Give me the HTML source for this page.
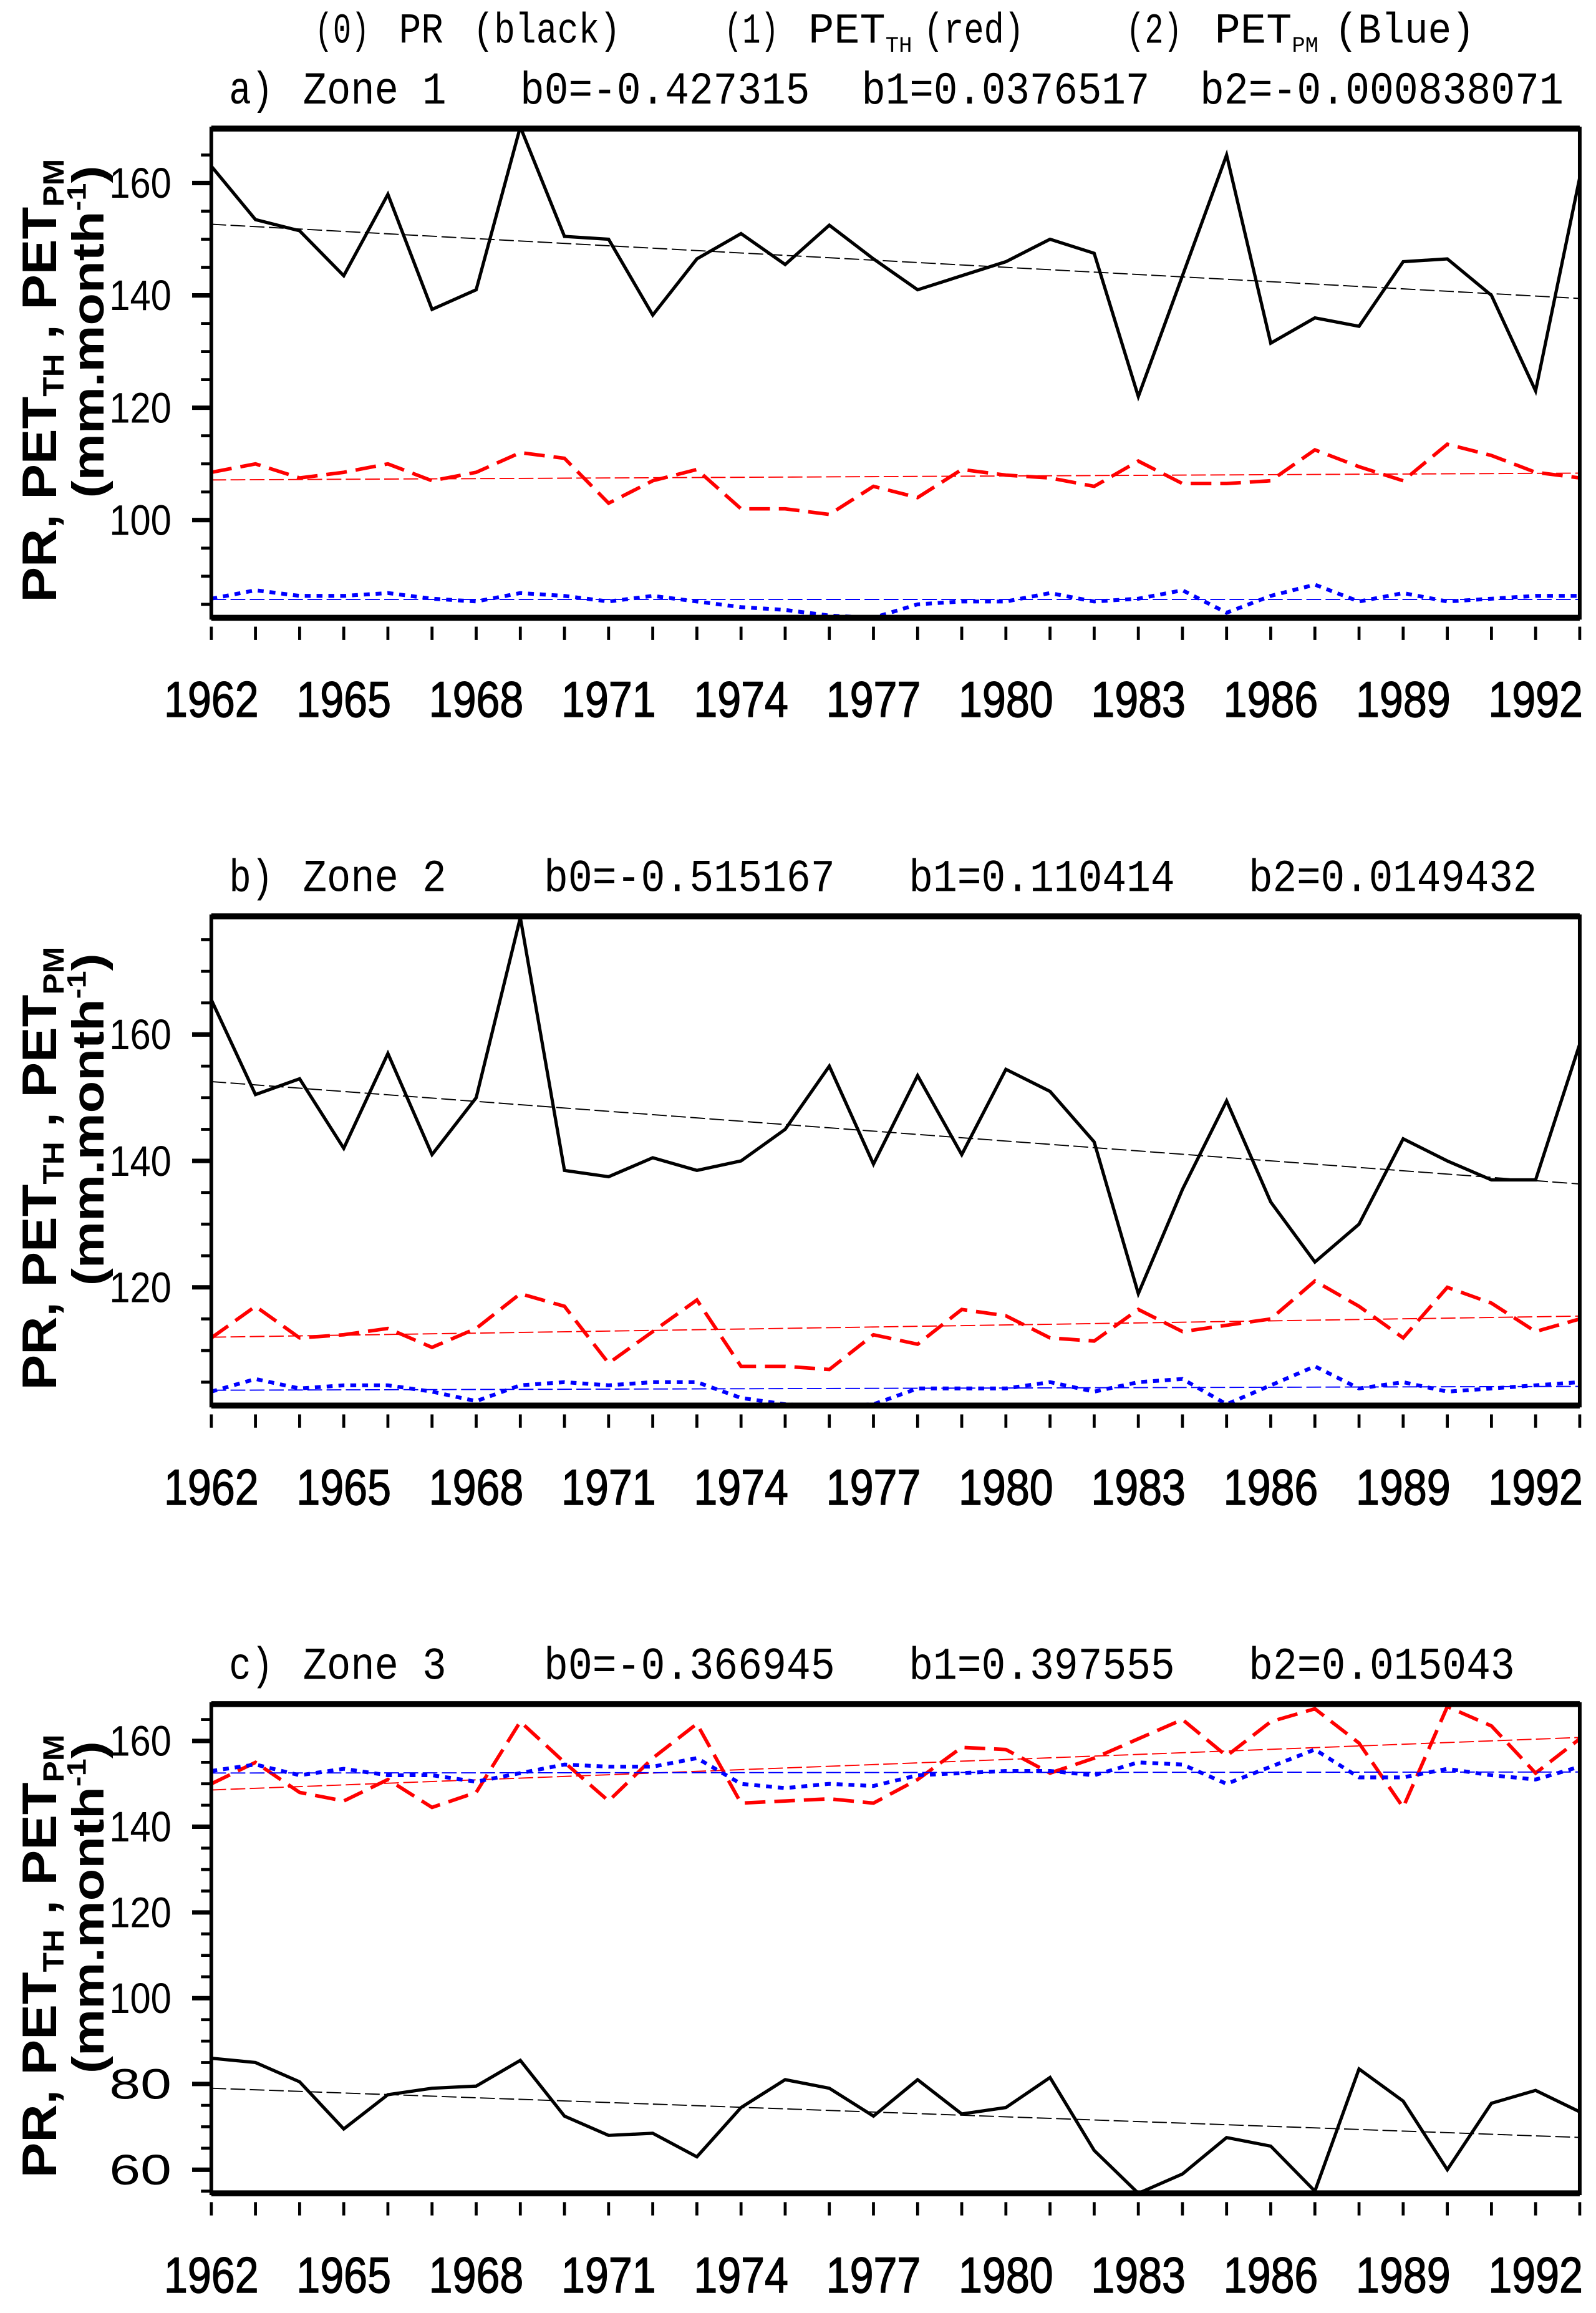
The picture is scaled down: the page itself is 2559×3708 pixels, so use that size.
<!DOCTYPE html>
<html><head><meta charset="utf-8"><style>
html,body{margin:0;padding:0;background:#fff;}
svg{display:block;}
text{font-family:"Liberation Sans",sans-serif;}
text.mono,.mono text{font-family:"Liberation Mono",monospace;}
</style></head><body>
<svg id="fig" xmlns="http://www.w3.org/2000/svg" width="2559" height="3708" viewBox="0 0 1080 1565" preserveAspectRatio="none">
<g class="mono" font-size="29">
<text class="mono" x="213" y="29" textLength="37" lengthAdjust="spacingAndGlyphs">(0)</text>
<text class="mono" x="270" y="29" textLength="30" lengthAdjust="spacingAndGlyphs">PR</text>
<text class="mono" x="320" y="29" textLength="100" lengthAdjust="spacingAndGlyphs">(black)</text>
<text class="mono" x="490" y="29" textLength="37" lengthAdjust="spacingAndGlyphs">(1)</text>
<text class="mono" x="547" y="29">PET<tspan font-size="15" dy="6">TH</tspan></text>
<text class="mono" x="625" y="29" textLength="68" lengthAdjust="spacingAndGlyphs">(red)</text>
<text class="mono" x="762" y="29" textLength="38" lengthAdjust="spacingAndGlyphs">(2)</text>
<text class="mono" x="822" y="29">PET<tspan font-size="15" dy="6">PM</tspan></text>
<text class="mono" x="903" y="29" textLength="95" lengthAdjust="spacingAndGlyphs">(Blue)</text>
</g>
</svg>
<script>
const years = [];
for (let y = 1962; y <= 1993; y++) years.push(y);
const yearTicks = [1962,1965,1968,1971,1974,1977,1980,1983,1986,1989,1992];

const prA = [163,153.5,151.5,143.5,158,137.5,141,170,150.5,150,136.5,146.5,151,145.5,152.5,146.5,141,143.5,146,150,147.5,122,143.5,165,131.5,136,134.5,146,146.5,140,123,161];
const thA = [108.5,110,107.5,108.5,110,107,108.5,112,111,103,107,109,102,102,101,106,104,109,108,107.5,106,110.5,106.5,106.5,107,112.5,109.5,107,113.5,111.5,108.5,107.5];
const pmA = [86,87.5,86.5,86.5,87,86,85.5,87,86.5,85.5,86.5,85.5,84.5,84,83,82.6,85,85.5,85.5,87,85.5,86,87.5,83.5,86.5,88.5,85.5,87,85.5,86,86.5,86.5];

const prB = [165.5,150.5,153,142,157,141,150,178.5,138.5,137.5,140.5,138.5,140,145,155,139.5,153.5,141,154.5,151,143,119,135.5,149.5,133.5,124,130,143.5,140,137,137,158.5];
const thB = [112,117,112,112.5,113.5,110.5,113.5,119,117,108,113,118,107.5,107.5,107,112.5,111,116.5,115.5,112,111.5,116.5,113,114,115,121,117,112,120,117.5,113,115];
const pmB = [103.5,105.5,104,104.5,104.5,103.5,102,104.5,105,104.5,105,105,102.5,101.5,101.3,101.5,104,104,104,105,103.5,105,105.5,101.5,104.5,107.5,104,105,103.5,104,104.5,105];

const prC = [86,85,80.5,69.5,77.5,79,79.5,85.5,72.5,68,68.5,63,74.5,81,79,72.5,81,73,74.5,81.5,64.5,54.5,59,67.5,65.5,55,83.5,76,60,75.5,78.5,73.5];
const thC = [150,155,148,146,151,144.5,148,164.5,155,146,156,164,145.5,146,146.5,145.5,151,158.5,158,152.5,156,160.5,165,156.5,164.5,167.5,159.5,144.5,168,163.5,152.5,160.5];
const pmC = [153,154.5,152,153.5,152,152,150.5,152.5,154.5,154,154,156,150,149,150,149.5,152,152.5,153,153,152,155,154.5,150,154,158,151.5,151.5,153.5,152,151,154];

const titleA = ["a)","Zone 1","b0=-0.427315","b1=0.0376517","b2=-0.000838071"];
const titleB = ["b)","Zone 2","b0=-0.515167","b1=0.110414","b2=0.0149432"];
const titleC = ["c)","Zone 3","b0=-0.366945","b1=0.397555","b2=0.015043"];
const yTicksA = [100,120,140,160];
const yTicksB = [120,140,160];
const yTicksC = [60,80,100,120,140,160];

const NS = "http://www.w3.org/2000/svg";
const svg = document.getElementById('fig');
function mk(tag, attrs, parent){ const e=document.createElementNS(NS,tag); for(const k in attrs) e.setAttribute(k,attrs[k]); (parent||svg).appendChild(e); return e; }

const X0=143, X1=1069;
const panels = [
 {top:87,bot:418,ymin:82.6,ymax:169.7,pr:prA,th:thA,pm:pmA,ticks:yTicksA,title:titleA,ty:70,tpos:[[155,30],[205,97],[352,196],[583,195],[812,246]],name:'a'},
 {top:620,bot:951,ymin:101.3,ymax:178.7,pr:prB,th:thB,pm:pmB,ticks:yTicksB,title:titleB,ty:603,tpos:[[155,30],[205,97],[368,197],[615,180],[845,195]],name:'b'},
 {top:1153,bot:1484,ymin:54.5,ymax:168.6,pr:prC,th:thC,pm:pmC,ticks:yTicksC,title:titleC,ty:1136,tpos:[[155,30],[205,97],[368,197],[615,180],[845,180]],name:'c'}
];

function fit(vals){ const n=vals.length; let sx=0,sy=0,sxx=0,sxy=0; vals.forEach((v,i)=>{sx+=i;sy+=v;sxx+=i*i;sxy+=i*v;}); const b=(n*sxy-sx*sy)/(n*sxx-sx*sx); const a=(sy-b*sx)/n; return [a,a+b*(n-1)]; }

panels.forEach(p=>{
  const g = mk('g',{});
  
  
  const xs = i => X0 + (X1-X0)*i/(years.length-1);
  const xy = yr => X0 + (X1-X0)*(yr-years[0])/(years[years.length-1]-years[0]);
  const ys = v => p.bot - (p.bot-p.top)*(v-p.ymin)/(p.ymax-p.ymin);
  const clip = 'clip'+p.name;
  const cp = mk('clipPath',{id:clip},g); mk('rect',{x:X0,y:p.top,width:X1-X0,height:p.bot-p.top},cp);

  p.title.forEach((s,i)=>{
    const t = mk('text',{x:p.tpos[i][0],y:p.ty,'font-size':31,textLength:p.tpos[i][1],lengthAdjust:'spacingAndGlyphs','class':'mono'},g);
    
    
    t.textContent = s;
  });

  for(let v=Math.ceil(p.ymin/5)*5; v<=p.ymax; v+=5){
    const major = v%20===0;
    const tk = mk('line',{x1:X0-(major?13:7),x2:X0,y1:ys(v),y2:ys(v),stroke:'#000','stroke-width':major?3:2},g);
    
    
  }
  p.ticks.forEach(v=>{
    const lb = mk('text',{x:116,y:ys(v)+10,'font-size':29,'text-anchor':'end',textLength:42,lengthAdjust:'spacingAndGlyphs'},g);
    
    
    lb.textContent = v;
  });
  years.forEach(yr=>{
    const tk = mk('line',{x1:xy(yr),x2:xy(yr),y1:p.bot+6,y2:p.bot+15,stroke:'#000','stroke-width':2},g);
    
    
  });
  yearTicks.forEach(yr=>{
    const lb = mk('text',{x:xy(yr),y:p.bot+67,'font-size':34,'text-anchor':'middle',textLength:64,lengthAdjust:'spacingAndGlyphs',stroke:'#000','stroke-width':0.6},g);
    
    
    lb.textContent = yr;
  });
  const cy = (p.top+p.bot)/2;
  const yt = mk('text',{transform:`translate(38,${cy+5}) rotate(-90)`,'font-size':33,'font-weight':'bold','text-anchor':'middle',textLength:300,lengthAdjust:'spacingAndGlyphs'},g);
  
  
  yt.innerHTML = 'PR, PET<tspan font-size="20" dy="5">TH</tspan><tspan dy="-5"> , PET</tspan><tspan font-size="20" dy="5">PM</tspan>';
  const yt2 = mk('text',{transform:`translate(70,${cy-28}) rotate(-90)`,'font-size':30,'font-weight':'bold','text-anchor':'middle',textLength:225,lengthAdjust:'spacingAndGlyphs'},g);
  
  
  yt2.innerHTML = '(mm.month<tspan font-size="18" dy="-12">-1</tspan><tspan dy="12">)</tspan>';

  const series = [
    {d:p.pr,c:'#000',dash:'',w:2.2,n:'pr'},
    {d:p.th,c:'#f00',dash:'14 6',w:2.4,n:'pet-th'},
    {d:p.pm,c:'#00f',dash:'4 4',w:2.6,n:'pet-pm'}
  ];
  series.forEach(s=>{
    const f = fit(s.d);
    const tl = mk('line',{x1:X0,x2:X1,y1:ys(f[0]),y2:ys(f[1]),stroke:s.c,'stroke-width':0.8,'stroke-dasharray':'10 3','clip-path':`url(#${clip})`},g);
    
    
    const pl = mk('polyline',{points:s.d.map((v,i)=>xs(i)+','+ys(v)).join(' '),fill:'none',stroke:s.c,'stroke-width':s.w,'stroke-dasharray':s.dash,'clip-path':`url(#${clip})`},g);
    
    
  });
  const fr = mk('rect',{x:X0,y:p.top,width:X1-X0,height:p.bot-p.top,fill:'none',stroke:'#000','stroke-width':2.5},g);
  
  
  mk('line',{x1:X0,x2:X1,y1:p.top,y2:p.top,stroke:'#000','stroke-width':4},g);
  mk('line',{x1:X0,x2:X1,y1:p.bot,y2:p.bot,stroke:'#000','stroke-width':4},g);
});
</script>
</body></html>
